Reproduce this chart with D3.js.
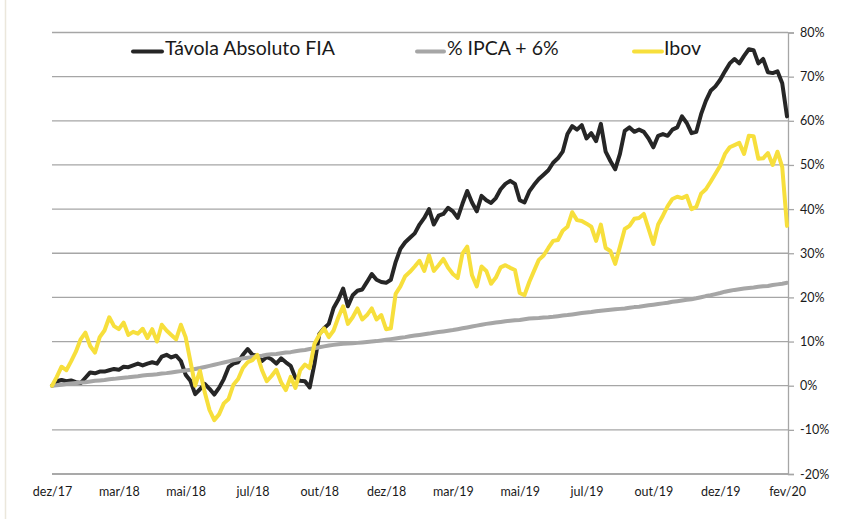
<!DOCTYPE html>
<html>
<head>
<meta charset="utf-8">
<script src="https://cdn.jsdelivr.net/npm/d3@7"></script>
<style>
  html, body { margin: 0; padding: 0; background: #ffffff; }
  svg { display: block; font-family: Lato, "Noto Sans", sans-serif; }
</style>
</head>
<body>
<svg id="chart" width="864" height="519"></svg>
<script>
// ---- Data (values in %) ----
const xLabels = ["dez/17","mar/18","mai/18","jul/18","out/18","dez/18","mar/19","mai/19","jul/19","out/19","dez/19","fev/20"];
const yTicks = [-20, -10, 0, 10, 20, 30, 40, 50, 60, 70, 80];
const seriesNames = ["Távola Absoluto FIA", "% IPCA + 6%", "Ibov"];

const tavola = [
  0, 1.0, 1.3, 1.0, 1.2, 0.8, 0.6, 1.8, 3.0, 2.8,
  3.2, 3.2, 3.5, 3.8, 3.6, 4.3, 4.2, 4.6, 5.0, 4.6,
  5.0, 5.3, 5.0, 6.6, 7.0, 6.4, 6.8, 5.6, 2.5, 1.1,
  -1.9, -0.8, 0.4, -0.7, -2.0, -0.5, 1.5, 4.2, 5.0, 5.3,
  7.0, 8.3, 7.0, 6.8, 5.6, 6.5, 6.0, 5.0, 6.2, 5.3,
  4.5, 1.8, 1.1, 1.0, -0.4, 5.0, 11.7, 13.0, 14.0, 17.6,
  19.5, 22.0, 18.0, 20.5, 21.5, 21.8, 23.5, 25.3, 24.0, 23.5,
  23.3, 24.0, 28.0, 31.0, 32.5, 33.5, 34.5, 36.5, 38.0, 40.0,
  36.5, 38.5, 38.9, 40.3, 39.5, 38.0, 41.2, 44.1, 41.5, 39.5,
  43.0, 42.0, 41.4, 42.5, 44.5, 45.7, 46.4, 45.7, 42.0, 41.5,
  44.0, 45.5, 46.8, 47.8, 48.8, 50.5, 51.5, 53.0, 57.0, 58.8,
  58.0, 59.0, 56.0, 57.2, 55.4, 59.3, 53.0, 50.9, 49.0, 52.5,
  57.7, 58.5, 57.5, 58.0, 57.5, 56.0, 54.0, 56.6, 57.0, 56.6,
  58.0, 58.5, 61.0, 59.5, 57.2, 57.5, 61.5, 64.5, 66.8, 67.8,
  69.3, 71.2, 73.0, 74.0, 73.0, 74.7, 76.2, 76.0, 73.0, 74.0,
  71.0, 70.8, 71.2, 68.5, 61.0
];

const ipca = [
  0, 0.1, 0.2, 0.4, 0.5, 0.6, 0.7, 0.8, 0.95, 1.1,
  1.2, 1.3, 1.45, 1.55, 1.7, 1.8, 1.9, 2.05, 2.15, 2.3,
  2.4, 2.5, 2.6, 2.75, 2.85, 3.0, 3.15, 3.3, 3.45, 3.6,
  3.8, 4.0, 4.25, 4.5, 4.75, 5.0, 5.25, 5.5, 5.75, 6.0,
  6.2, 6.35, 6.5, 6.65, 6.8, 7.0, 7.1, 7.2, 7.35, 7.5,
  7.6, 7.8, 7.95, 8.1, 8.3, 8.5, 8.7, 8.9, 9.1, 9.25,
  9.4, 9.5, 9.55, 9.6, 9.7, 9.8, 9.9, 10.0, 10.1, 10.25,
  10.4, 10.55, 10.7, 10.85, 11.0, 11.2, 11.35, 11.5, 11.65, 11.8,
  12.0, 12.15, 12.3, 12.45, 12.6, 12.8, 13.0, 13.2, 13.4, 13.6,
  13.8, 14.0, 14.15, 14.3, 14.45, 14.6, 14.7, 14.8, 14.9, 15.05,
  15.2, 15.3, 15.35, 15.45, 15.5, 15.6, 15.75, 15.9, 16.0, 16.15,
  16.3, 16.45, 16.6, 16.7, 16.85, 17.0, 17.1, 17.2, 17.3, 17.4,
  17.5, 17.65, 17.8, 17.9, 18.05, 18.2, 18.35, 18.5, 18.65, 18.8,
  19.0, 19.15, 19.3, 19.45, 19.6, 19.8, 20.05, 20.3, 20.5, 20.75,
  21.0, 21.3, 21.5, 21.7, 21.85, 22.0, 22.15, 22.25, 22.4, 22.5,
  22.6, 22.8, 22.95, 23.1, 23.3
];

const ibov = [
  0, 2.0, 4.3, 3.5, 5.5, 7.7, 10.5, 12.0, 9.0, 7.5,
  11.0, 12.5, 15.5, 13.5, 12.8, 14.3, 11.5, 12.2, 11.8, 12.9,
  10.8, 12.8, 10.0, 13.8, 12.5, 11.5, 10.5, 13.8, 11.0, 5.5,
  0.0, 3.4, -1.5, -5.5, -7.8, -6.5, -4.0, -3.0, 0.2, 1.5,
  4.0, 5.3, 5.8, 7.0, 3.5, 1.0, 2.2, 3.6, 0.8, -1.0,
  2.0, -0.5, 3.5, 4.8, 4.0, 9.5, 11.5, 13.0, 11.0, 12.5,
  15.5, 18.0, 14.0, 15.5, 17.5, 15.0, 16.0, 17.5, 15.0, 16.0,
  12.8, 13.0, 20.8, 22.5, 24.8, 25.8, 27.0, 28.3, 26.0, 29.5,
  26.0, 27.3, 28.7, 26.7, 25.3, 24.4, 29.9, 31.5, 25.0, 22.5,
  27.0, 26.0, 23.1, 24.5, 26.8, 27.3, 26.7, 26.2, 21.0, 20.5,
  23.5, 26.0, 28.5, 29.5, 31.2, 32.8, 33.0, 35.1, 36.0, 39.3,
  37.5, 37.3, 36.7, 36.0, 32.8, 36.5, 31.2, 30.5, 27.6, 31.5,
  35.5, 36.2, 37.8, 38.0, 38.9, 35.5, 32.1, 36.5, 38.5, 40.7,
  42.3, 42.8, 42.5, 43.0, 40.0, 40.5, 43.5, 44.5, 46.2, 48.0,
  49.8, 52.5, 54.0, 54.5, 55.0, 52.5, 56.6, 56.5, 51.4, 51.5,
  52.7, 50.0, 53.0, 49.5, 36.2
];

const colors = ["#262626", "#a6a6a6", "#f7df3c"];

// ---- Layout ----
const svg = d3.select("#chart");
const plot = { left: 52, right: 787, top: 32.5, bottom: 474 };
const n = tavola.length;
const labelStep = (n - 1) / (xLabels.length - 1);

const x = d3.scaleLinear().domain([0, n - 1]).range([plot.left, plot.right]);
const y = d3.scaleLinear().domain([-20, 80]).range([plot.bottom, plot.top]);

// faint outer frame line on the left
svg.append("line").attr("x1", 5.5).attr("x2", 5.5).attr("y1", 0).attr("y2", 519)
  .attr("stroke", "#ebe7dc").attr("stroke-width", 1.5);

// gridlines
svg.append("g")
  .selectAll("line")
  .data(yTicks)
  .join("line")
  .attr("x1", plot.left)
  .attr("x2", plot.right + 1)
  .attr("y1", d => y(d))
  .attr("y2", d => y(d))
  .attr("stroke", d => d === -20 ? "#8c8c8c" : "#a6a6a6")
  .attr("stroke-width", 1.3);

// right axis
const yAxis = d3.axisRight(y)
  .tickValues(yTicks)
  .tickFormat(d => d + "%")
  .tickSize(6)
  .tickPadding(6);
const gy = svg.append("g")
  .attr("transform", `translate(${plot.right + 1},0)`)
  .call(yAxis);
gy.select(".domain").attr("stroke", "#a6a6a6").attr("stroke-width", 1.3);
gy.selectAll(".tick line").attr("stroke", "#a6a6a6").attr("stroke-width", 1.3);
gy.selectAll(".tick text")
  .attr("fill", "#1a1a1a")
  .style("font-size", "12.5px")
  .style("font-family", "Lato, 'Noto Sans', sans-serif");

// bottom axis (labels only)
const xAxis = d3.axisBottom(x)
  .tickValues(xLabels.map((_, i) => i * labelStep))
  .tickFormat((d, i) => xLabels[i])
  .tickSize(0)
  .tickPadding(13);
const gx = svg.append("g")
  .attr("transform", `translate(0,${plot.bottom})`)
  .call(xAxis);
gx.select(".domain").remove();
gx.selectAll(".tick text")
  .attr("fill", "#1a1a1a")
  .style("font-size", "12.5px")
  .style("font-family", "Lato, 'Noto Sans', sans-serif");

// lines
const line = d3.line()
  .x((d, i) => x(i))
  .y(d => y(d))
  .curve(d3.curveLinear);

[tavola, ipca, ibov].forEach((s, k) => {
  svg.append("path")
    .datum(s)
    .attr("fill", "none")
    .attr("stroke", colors[k])
    .attr("stroke-width", 4)
    .attr("stroke-linejoin", "round")
    .attr("stroke-linecap", "round")
    .attr("d", line);
});

// legend
const legendItems = [
  { name: seriesNames[0], color: colors[0], x0: 133, x1: 162, tx: 165 },
  { name: seriesNames[1], color: colors[1], x0: 417, x1: 444, tx: 447 },
  { name: seriesNames[2], color: colors[2], x0: 634, x1: 662, tx: 664 }
];
const lg = svg.append("g");
legendItems.forEach(it => {
  lg.append("line")
    .attr("x1", it.x0).attr("x2", it.x1)
    .attr("y1", 51.5).attr("y2", 51.5)
    .attr("stroke", it.color).attr("stroke-width", 4)
    .attr("stroke-linecap", "round");
  lg.append("text")
    .attr("x", it.tx).attr("y", 50)
    .attr("dominant-baseline", "middle")
    .attr("fill", "#1a1a1a")
    .style("font-size", "19.5px")
    .text(it.name);
});
</script>
</body>
</html>
